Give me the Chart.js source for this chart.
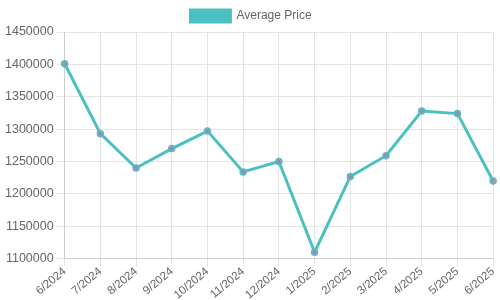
<!DOCTYPE html>
<html>
<head>
<meta charset="utf-8">
<script src="https://cdn.jsdelivr.net/npm/chart.js@4"></script>
<style>
  html, body { margin: 0; padding: 0; background: #fff; }
  #wrap { width: 500px; height: 300px; }
</style>
</head>
<body>
<div id="wrap"><canvas id="priceChart"></canvas></div>
<script>
// Dữ liệu biểu đồ
const months = ['6/2024', '7/2024', '8/2024', '9/2024', '10/2024', '11/2024', '12/2024',
                '1/2025', '2/2025', '3/2025', '4/2025', '5/2025', '6/2025'];
const avgPrice = [1401000, 1293000, 1240000, 1270000, 1297000, 1234000, 1250000,
                  1110000, 1227000, 1259000, 1328000, 1324000, 1220000];
const yMin = 1100000;
const yMax = 1450000;
const yStep = 50000;

const ctx = document.getElementById('priceChart');
new Chart(ctx, {
    type: 'line',
    data: {
        labels: months,
        datasets: [{
            label: 'Average Price',
            data: avgPrice,
            borderColor: '#4bc0c0',
            backgroundColor: '#4bc0c0',
            pointBackgroundColor: 'rgba(150,135,175,0.85)',
            pointBorderColor: '#5bbcc4',
            pointBorderWidth: 1.5,
            pointRadius: 3,
            borderWidth: 3,
            tension: 0,
            fill: false
        }]
    },
    options: {
        responsive: true,
        maintainAspectRatio: false,
        animation: false,
        layout: { padding: { left: 2 } },
        plugins: { legend: { position: 'top' } },
        scales: {
            x: {
                grid: { color: '#e5e5e5' },
                ticks: { font: { size: 11.5 }, maxRotation: 40, minRotation: 40, padding: -2 }
            },
            y: {
                min: yMin, max: yMax,
                grid: { color: '#e5e5e5' },
                ticks: { stepSize: yStep, font: { size: 12.5 }, callback: v => String(v) }
            }
        }
    }
});
</script>
</body>
</html>
